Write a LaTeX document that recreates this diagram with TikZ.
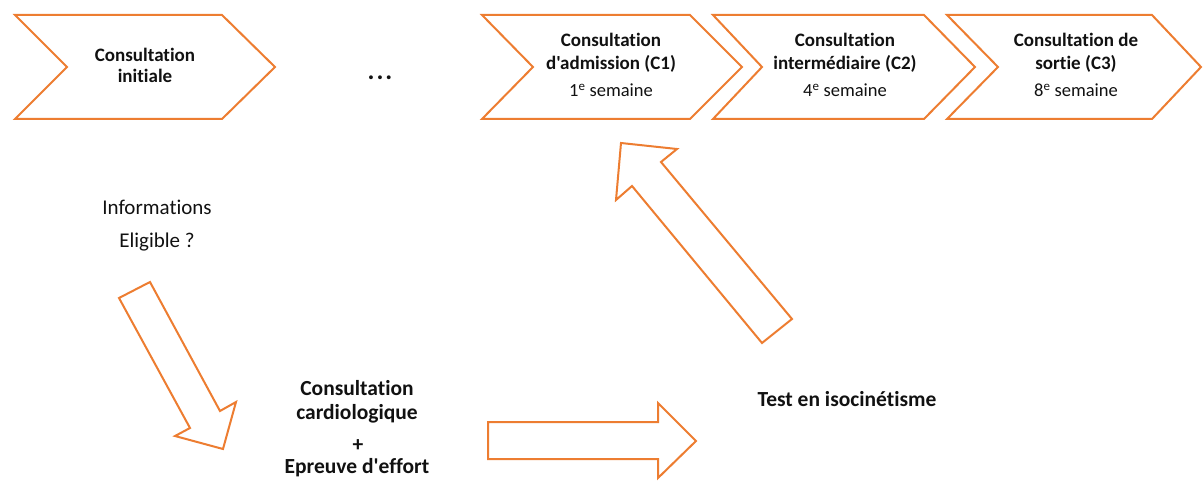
\documentclass[tikz,border=0pt]{standalone}
\usepackage{fontspec}
\setmainfont{Carlito}[Ligatures={TeXOff,NoCommon}]
\definecolor{accorange}{HTML}{ED7D31}
\definecolor{txt}{HTML}{111111}
\tikzset{
  chevbox/.style={draw=accorange, line width=2pt, line join=miter, fill=white},
  blockarrow/.style={draw=accorange, line width=2pt, line join=miter, fill=white},
  boldtxt/.style={anchor=base, inner sep=0pt, text=txt, font=\fontsize{19}{21}\selectfont\bfseries},
  regtxt/.style={anchor=base, inner sep=0pt, text=txt, font=\fontsize{18.5}{21}\selectfont},
  midreg/.style={anchor=base, inner sep=0pt, text=txt, font=\fontsize{21}{24}\selectfont},
  bigbold/.style={anchor=base, inner sep=0pt, text=txt, font=\fontsize{21.5}{24}\selectfont\bfseries},
  dotstyle/.style={anchor=base, inner sep=0pt, text=txt, font=\fontsize{26}{28}\selectfont\bfseries},
}
\newcommand{\chevshape}[4]{% TL, notch, TR, tip
  \draw[chevbox] (#1,15) -- (#3,15) -- (#4,67) -- (#3,119) -- (#1,119) -- (#2,67) -- cycle;
}
\begin{document}
\begin{tikzpicture}[x=1pt,y=-1pt]
\useasboundingbox (0,0) rectangle (1203,489);
% chevrons
\chevshape{15}{67}{222}{275}
\chevshape{482}{533}{690}{742}
\chevshape{713}{762}{924}{975}
\chevshape{947}{998}{1152}{1201}
% chevron texts
\node[boldtxt] (ci1) at (145,62) {Consultation};
\node[boldtxt] (ci2) at (145,83) {initiale};
\node[dotstyle] (dots) at (380,80) {.\kern2pt.\kern2pt.};
\node[boldtxt] (ca1) at (611,47) {Consultation};
\node[boldtxt] (ca2) at (611,70) {d'admission (C1)};
\node[regtxt] (ca3) at (611,97) {1\textsuperscript{e} semaine};
\node[boldtxt] (cm1) at (845,47) {Consultation};
\node[boldtxt] (cm2) at (845,70) {intermédiaire (C2)};
\node[regtxt] (cm3) at (845,97) {4\textsuperscript{e} semaine};
\node[boldtxt] (cs1) at (1076,47) {Consultation de};
\node[boldtxt] (cs2) at (1076,70) {sortie (C3)};
\node[regtxt] (cs3) at (1076,97) {8\textsuperscript{e} semaine};
% left texts
\node[midreg] (info) at (157,215) {Informations};
\node[midreg] (elig) at (157,248) {Eligible ?};
% bottom texts
\node[bigbold] (cc1) at (357,395) {Consultation};
\node[bigbold] (cc2) at (357,419) {cardiologique};
\node[bigbold] (plus) at (358,451) {+};
\node[bigbold] (cc3) at (357,473) {Epreuve d'effort};
\node[bigbold] (test) at (847,406) {Test en isocinétisme};
% block arrows
\draw[blockarrow] (119,298) -- (150,282) -- (220,411) -- (236,402) -- (223,449) -- (175,436) -- (190,428) -- cycle;
\draw[blockarrow] (488,422) -- (658,422) -- (658,403) -- (696,441) -- (658,478) -- (658,459) -- (488,459) -- cycle;
\draw[blockarrow] (621,143) -- (677,149) -- (661,162) -- (792,319) -- (762,343) -- (632,186) -- (616,200) -- cycle;
\end{tikzpicture}
\end{document}
